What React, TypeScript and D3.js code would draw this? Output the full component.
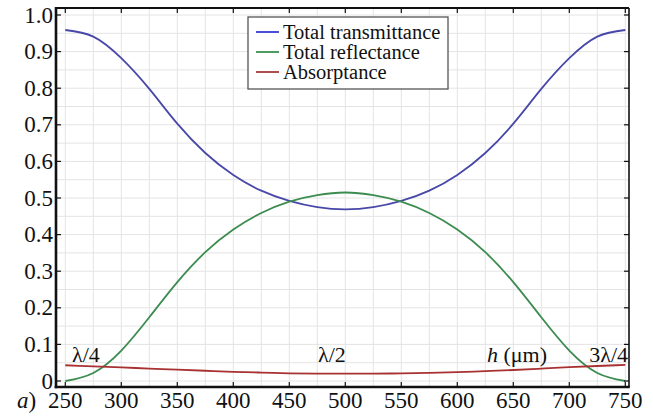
import React from "react";
import * as d3 from "d3";

const thickness = [250, 275, 300, 325, 350, 375, 400, 425, 450, 475, 500, 525, 550, 575, 600, 625, 650, 675, 700, 725, 750];
const transmittance = [0.959, 0.941, 0.882, 0.798, 0.703, 0.623, 0.563, 0.52, 0.492, 0.475, 0.469, 0.475, 0.492, 0.52, 0.563, 0.623, 0.703, 0.798, 0.882, 0.941, 0.959];
const reflectance = [0.0, 0.022, 0.083, 0.174, 0.27, 0.352, 0.414, 0.459, 0.49, 0.508, 0.515, 0.508, 0.49, 0.459, 0.414, 0.352, 0.27, 0.174, 0.083, 0.022, 0.0];
const absorptance = [0.043, 0.04, 0.037, 0.034, 0.031, 0.028, 0.025, 0.023, 0.021, 0.02, 0.02, 0.02, 0.021, 0.022, 0.024, 0.027, 0.03, 0.034, 0.038, 0.041, 0.044];

const xTicks = [250, 300, 350, 400, 450, 500, 550, 600, 650, 700, 750];
const yTicks = [0, 0.1, 0.2, 0.3, 0.4, 0.5, 0.6, 0.7, 0.8, 0.9, 1.0];
const yTickLabels = ["0", "0.1", "0.2", "0.3", "0.4", "0.5", "0.6", "0.7", "0.8", "0.9", "1.0"];

const seriesNames = ["Total transmittance", "Total reflectance", "Absorptance"];
const seriesColors = ["#4848a8", "#3c8c50", "#a83232"];
const legendColors = ["#3a3ad0", "#3c9050", "#a83a3a"];

const font = "'Liberation Serif', 'Times New Roman', serif";

export default function App() {
  const width = 653;
  const height = 416;
  const x = d3.scaleLinear().domain([250, 750]).range([65.3, 625.3]);
  const y = d3.scaleLinear().domain([0, 1]).range([381, 15]);

  const left = x(250) - 9.3;
  const right = x(750) + 3.7;
  const top = y(1) - 7;
  const bottom = y(0) + 6;

  const gridX = d3.range(250, 751, 25);
  const gridY = d3.range(0, 1.001, 0.05);

  const series = [transmittance, reflectance, absorptance];
  const line = (vals: number[]) =>
    d3
      .line<number>()
      .x((_, i) => x(thickness[i]))
      .y((d) => y(d))
      .curve(d3.curveNatural)(vals) as string;

  const lgX = 248;
  const lgY = 17;

  return (
    <svg width={width} height={height} style={{ position: "absolute", left: 0, top: 0, background: "#fff" }}>
      <rect x={0} y={0} width={width} height={height} fill="#fff" />
      {/* grid */}
      {gridX.map((g) => (
        <line key={"gx" + g} x1={x(g)} x2={x(g)} y1={top} y2={bottom} stroke="#e4e4e4" strokeWidth={1} />
      ))}
      {gridY.map((g, i) => (
        <line key={"gy" + i} x1={left} x2={right} y1={y(g)} y2={y(g)} stroke="#e4e4e4" strokeWidth={1} />
      ))}

      {/* curves */}
      {series.map((s, i) => (
        <path key={"s" + i} d={line(s)} fill="none" stroke={seriesColors[i]} strokeWidth={1.8} />
      ))}

      {/* frame */}
      <line x1={left} x2={right} y1={top} y2={top} stroke="#111" strokeWidth={2} />
      <line x1={right} x2={right} y1={top} y2={bottom} stroke="#111" strokeWidth={1.6} />
      <line x1={left} x2={left} y1={top - 1} y2={bottom + 1.2} stroke="#111" strokeWidth={2.6} />
      <line x1={left - 1.3} x2={right + 0.8} y1={bottom} y2={bottom} stroke="#111" strokeWidth={2.6} />

      {/* ticks */}
      {xTicks.map((t) => (
        <g key={"xt" + t}>
          <line x1={x(t)} x2={x(t)} y1={bottom} y2={bottom - 5} stroke="#111" strokeWidth={1.2} />
          <line x1={x(t)} x2={x(t)} y1={top} y2={top + 5} stroke="#111" strokeWidth={1.2} />
          <text x={x(t)} y={408} textAnchor="middle" fontFamily={font} fontSize={23} fill="#111">
            {t}
          </text>
        </g>
      ))}
      {yTicks.map((t, i) => (
        <g key={"yt" + i}>
          <line x1={left} x2={left + 5} y1={y(t)} y2={y(t)} stroke="#111" strokeWidth={1.2} />
          <line x1={right} x2={right - 5} y1={y(t)} y2={y(t)} stroke="#111" strokeWidth={1.2} />
          <text x={53} y={y(t) + 7.5} textAnchor="end" fontFamily={font} fontSize={23} fill="#111">
            {yTickLabels[i]}
          </text>
        </g>
      ))}

      <text x={17} y={408} fontFamily={font} fontSize={23} fontStyle="italic" fill="#111">
        a<tspan fontStyle="normal">)</tspan>
      </text>

      {/* annotations */}
      <text x={72} y={362} fontFamily={font} fontSize={22} fill="#111">λ/4</text>
      <text x={318} y={362} fontFamily={font} fontSize={22} fill="#111">λ/2</text>
      <text x={487} y={362} fontFamily={font} fontSize={22} fill="#111">
        <tspan fontStyle="italic">h</tspan> (μm)
      </text>
      <text x={628} y={362} textAnchor="end" fontFamily={font} fontSize={22} fill="#111">3λ/4</text>

      {/* legend */}
      <rect x={lgX} y={lgY} width={200} height={72} fill="#fff" stroke="#555" strokeWidth={1.3} />
      {seriesNames.map((n, i) => (
        <g key={"lg" + i}>
          <line x1={lgX + 8} x2={lgX + 31} y1={lgY + 15 + i * 20} y2={lgY + 15 + i * 20} stroke={legendColors[i]} strokeWidth={1.8} />
          <text x={lgX + 35} y={lgY + 21.5 + i * 20} fontFamily={font} fontSize={20.5} fill="#111">
            {n}
          </text>
        </g>
      ))}
    </svg>
  );
}
